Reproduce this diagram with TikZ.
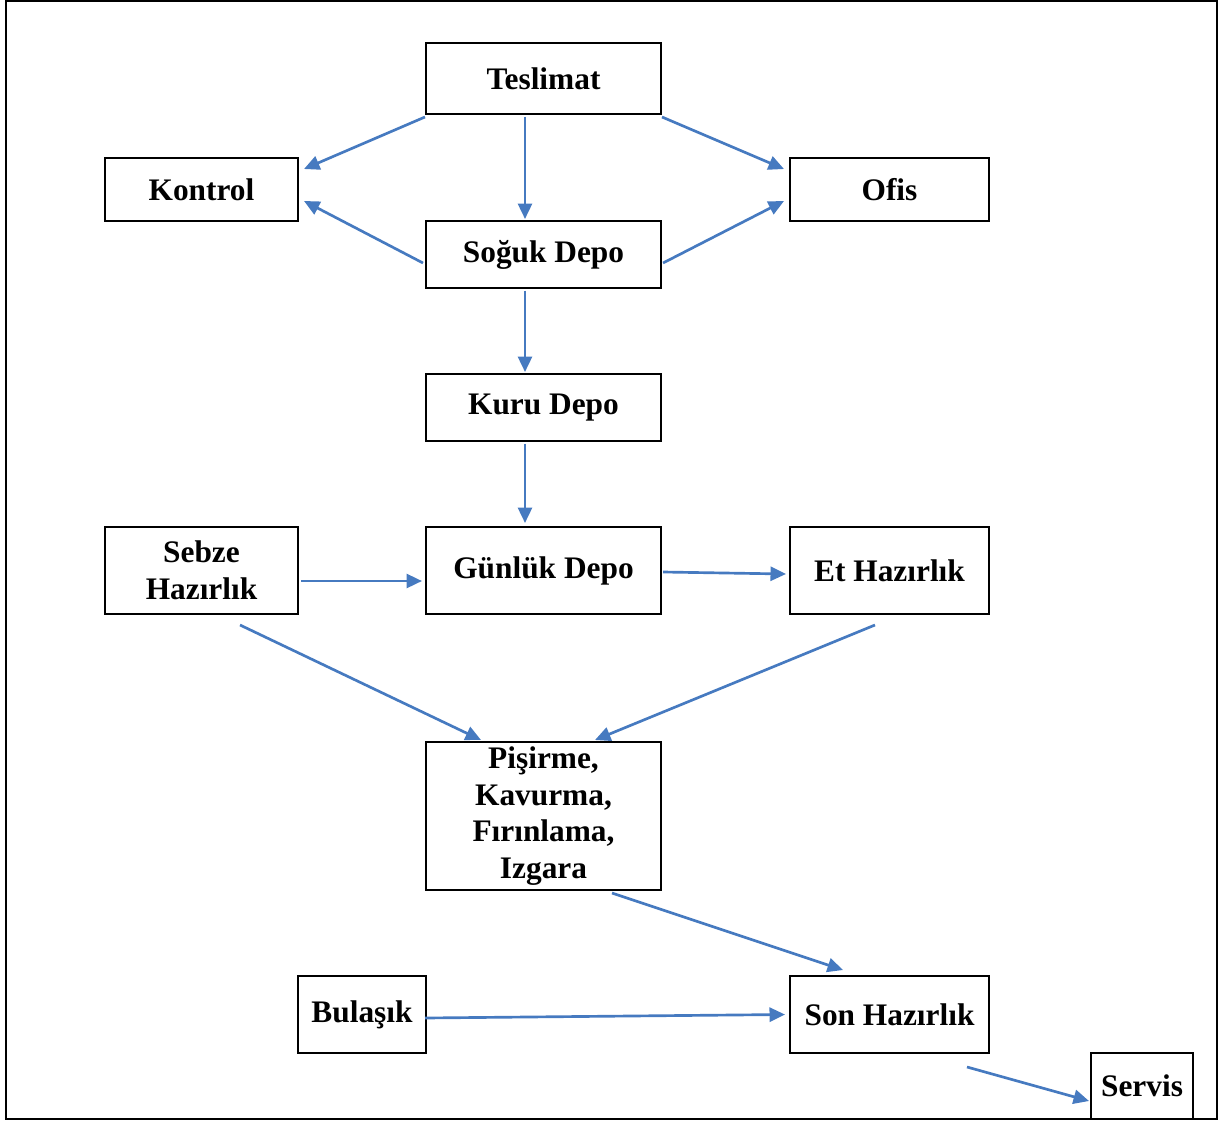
\documentclass[tikz,border=0pt]{standalone}
\usepackage{fontspec}
\setmainfont{Liberation Serif}
\usetikzlibrary{arrows.meta}
\definecolor{okmavi}{RGB}{70,122,192}
\tikzset{
  kutu/.style={draw, line width=1.4pt, inner sep=0pt, align=center,
    font=\fontsize{22.3}{26}\selectfont\bfseries},
  ok/.style={draw=okmavi, line width=1.9pt, -{Triangle[length=11pt,width=10pt]}, fill=okmavi}
}
\begin{document}
\begin{tikzpicture}[x=0.025cm,y=-0.025cm]
    \useasboundingbox (0,0) rectangle (1224,1124);
    \draw[line width=1.4pt] (6,1) rectangle (1217,1119);
    \node[kutu, minimum width=5.875cm, minimum height=1.775cm] (teslimat) at (543.5,78.5) {Teslimat};
    \node[kutu, minimum width=4.825cm, minimum height=1.575cm] (kontrol) at (201.5,189.5) {Kontrol};
    \node[kutu, minimum width=4.975cm, minimum height=1.575cm] (ofis) at (889.5,189.5) {Ofis};
    \node[kutu, minimum width=5.875cm, minimum height=1.675cm] (soguk) at (543.5,254.5) {Soğuk Depo};
    \node[kutu, minimum width=5.875cm, minimum height=1.675cm] (kuru) at (543.5,407.5) {Kuru Depo};
    \node[kutu, minimum width=4.825cm, minimum height=2.175cm] (sebze) at (201.5,570.5) {Sebze\\Hazırlık};
    \node[kutu, minimum width=5.875cm, minimum height=2.175cm] (gunluk) at (543.5,570.5) {Günlük Depo};
    \node[kutu, minimum width=4.975cm, minimum height=2.175cm] (et) at (889.5,570.5) {Et Hazırlık};
    \node[kutu, minimum width=5.875cm, minimum height=3.7cm] (pisirme) at (543.5,816) {Pişirme,\\Kavurma,\\Fırınlama,\\Izgara};
    \node[kutu, minimum width=3.2cm, minimum height=1.925cm] (bulasik) at (362,1014.5) {Bulaşık};
    \node[kutu, minimum width=4.975cm, minimum height=1.925cm] (son) at (889.5,1014.5) {Son Hazırlık};
    \node[kutu, minimum width=2.55cm, minimum height=1.65cm] (servis) at (1142,1086) {Servis};
    % akis oklari
    \draw[ok] ([shift={(0,2)}]teslimat.south west) -- ([shift={(5,12)}]kontrol.north east);
    \draw[ok] ([shift={(-18.5,2)}]teslimat.south) -- ([shift={(-18.5,-1)}]soguk.north);
    \draw[ok] ([shift={(0,2)}]teslimat.south east) -- ([shift={(-5,12)}]ofis.north west);
    \draw[ok] ([shift={(-2,8.5)}]soguk.west) -- ([shift={(5,-21)}]kontrol.south east);
    \draw[ok] ([shift={(1,8.5)}]soguk.east) -- ([shift={(-5,-21)}]ofis.south west);
    \draw[ok] ([shift={(-18.5,2)}]soguk.south) -- ([shift={(-18.5,-1)}]kuru.north);
    \draw[ok] ([shift={(-18.5,2)}]kuru.south) -- ([shift={(-18.5,-3)}]gunluk.north);
    \draw[ok] ([shift={(2,10.5)}]sebze.east) -- ([shift={(-3,10.5)}]gunluk.west);
    \draw[ok] ([shift={(1,1.5)}]gunluk.east) -- ([shift={(-3,3.5)}]et.west);
    \draw[ok] ([shift={(38.5,10)}]sebze.south) -- ([shift={(-62.5,-1)}]pisirme.north);
    \draw[ok] ([shift={(-14.5,10)}]et.south) -- ([shift={(51.5,-1)}]pisirme.north);
    \draw[ok] ([shift={(68.5,2)}]pisirme.south) -- ([shift={(-46.5,-5)}]son.north);
    \draw[ok] ([shift={(-2,3.5)}]bulasik.east) -- ([shift={(-4,0)}]son.west);
    \draw[ok] ([shift={(-23,13)}]son.south east) -- ([shift={(-1,15)}]servis.west);
\end{tikzpicture}
\end{document}
